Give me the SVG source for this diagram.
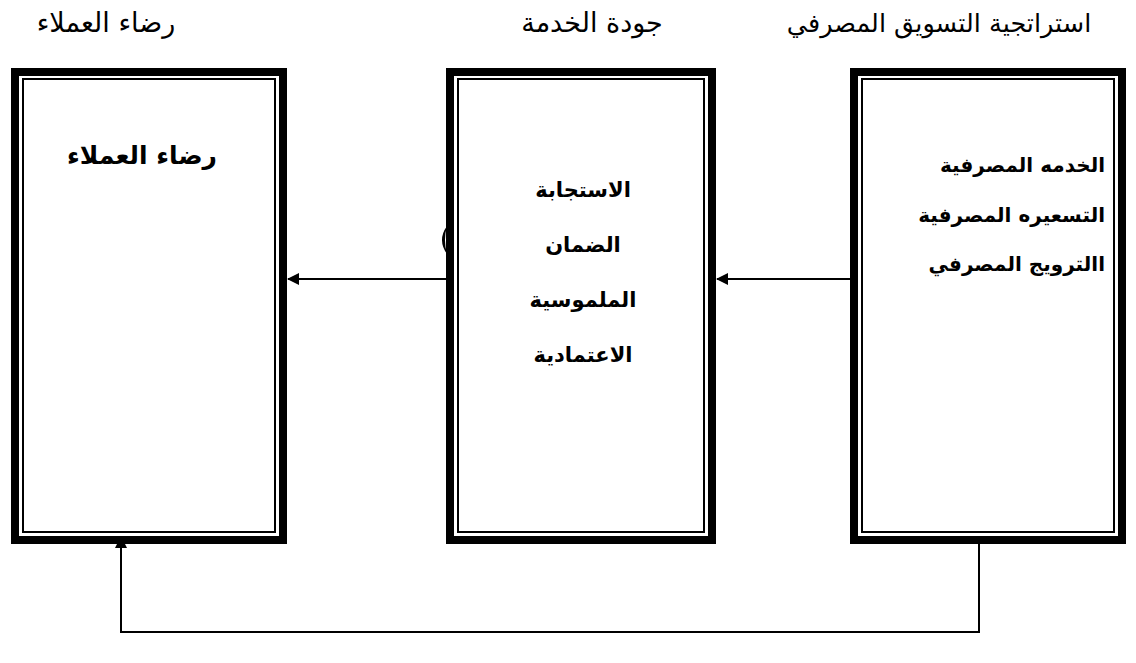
<svg xmlns="http://www.w3.org/2000/svg" width="1136" height="663" viewBox="0 0 1136 663">
<style>
.outer{fill:#fff;stroke:#000;stroke-width:8}
.inner{fill:none;stroke:#000;stroke-width:2}
.title{font-family:"DejaVu Sans",sans-serif;font-size:27px;fill:#000}
.lbl{font-family:"DejaVu Sans",sans-serif;font-size:21px;font-weight:bold;fill:#000}
.conn{fill:none;stroke:#000;stroke-width:2}
</style>
<defs>
<marker id="ah" viewBox="0 0 12 12" refX="11" refY="6" markerWidth="12" markerHeight="12" markerUnits="userSpaceOnUse" orient="auto">
<path d="M0,0 L12,6 L0,12 z" fill="#000"/>
</marker>
</defs>
<rect width="1136" height="663" fill="#fff"/>
<g id="titles">
<text class="title" x="106" y="32" text-anchor="middle" direction="rtl">رضاء العملاء</text>
<text class="title" x="592" y="32" text-anchor="middle" direction="rtl">جودة الخدمة</text>
<text class="title" x="939" y="32" text-anchor="middle" direction="rtl" style="font-size:25.5px">استراتجية التسويق المصرفي</text>
</g>
<path d="M447,226 Q437,240 447,254 Q443,240 447,226 z" fill="#000"/>
<g id="node-satisfaction">
<rect class="outer" x="15" y="72" width="268" height="468"/>
<rect class="inner" x="23" y="79" width="252" height="453"/>
<text class="lbl" x="142" y="164" text-anchor="middle" direction="rtl" style="font-size:25px">رضاء العملاء</text>
</g>
<g id="node-quality">
<rect class="outer" x="450" y="72" width="262" height="468"/>
<rect class="inner" x="458" y="79" width="246" height="453"/>
<text class="lbl" x="583" y="197" text-anchor="middle" direction="rtl">الاستجابة</text>
<text class="lbl" x="583" y="252" text-anchor="middle" direction="rtl">الضمان</text>
<text class="lbl" x="583" y="307" text-anchor="middle" direction="rtl">الملموسية</text>
<text class="lbl" x="583" y="362" text-anchor="middle" direction="rtl">الاعتمادية</text>
</g>
<g id="node-strategy">
<rect class="outer" x="854" y="72" width="268" height="468"/>
<rect class="inner" x="862" y="79" width="252" height="453"/>
<text class="lbl" x="1105" y="172" text-anchor="start" direction="rtl" style="font-size:20px">الخدمه المصرفية</text>
<text class="lbl" x="1105" y="222" text-anchor="start" direction="rtl" style="font-size:20px">التسعيره المصرفية</text>
<text class="lbl" x="1105" y="271" text-anchor="start" direction="rtl" style="font-size:20px">االترويج المصرفي</text>
</g>
<g id="connectors">
<path class="conn" d="M446,279 H288" marker-end="url(#ah)"/>
<path class="conn" d="M850,279 H717" marker-end="url(#ah)"/>
<path class="conn" d="M979,544 V632 H121 V537" marker-end="url(#ah)"/>
</g>
</svg>
